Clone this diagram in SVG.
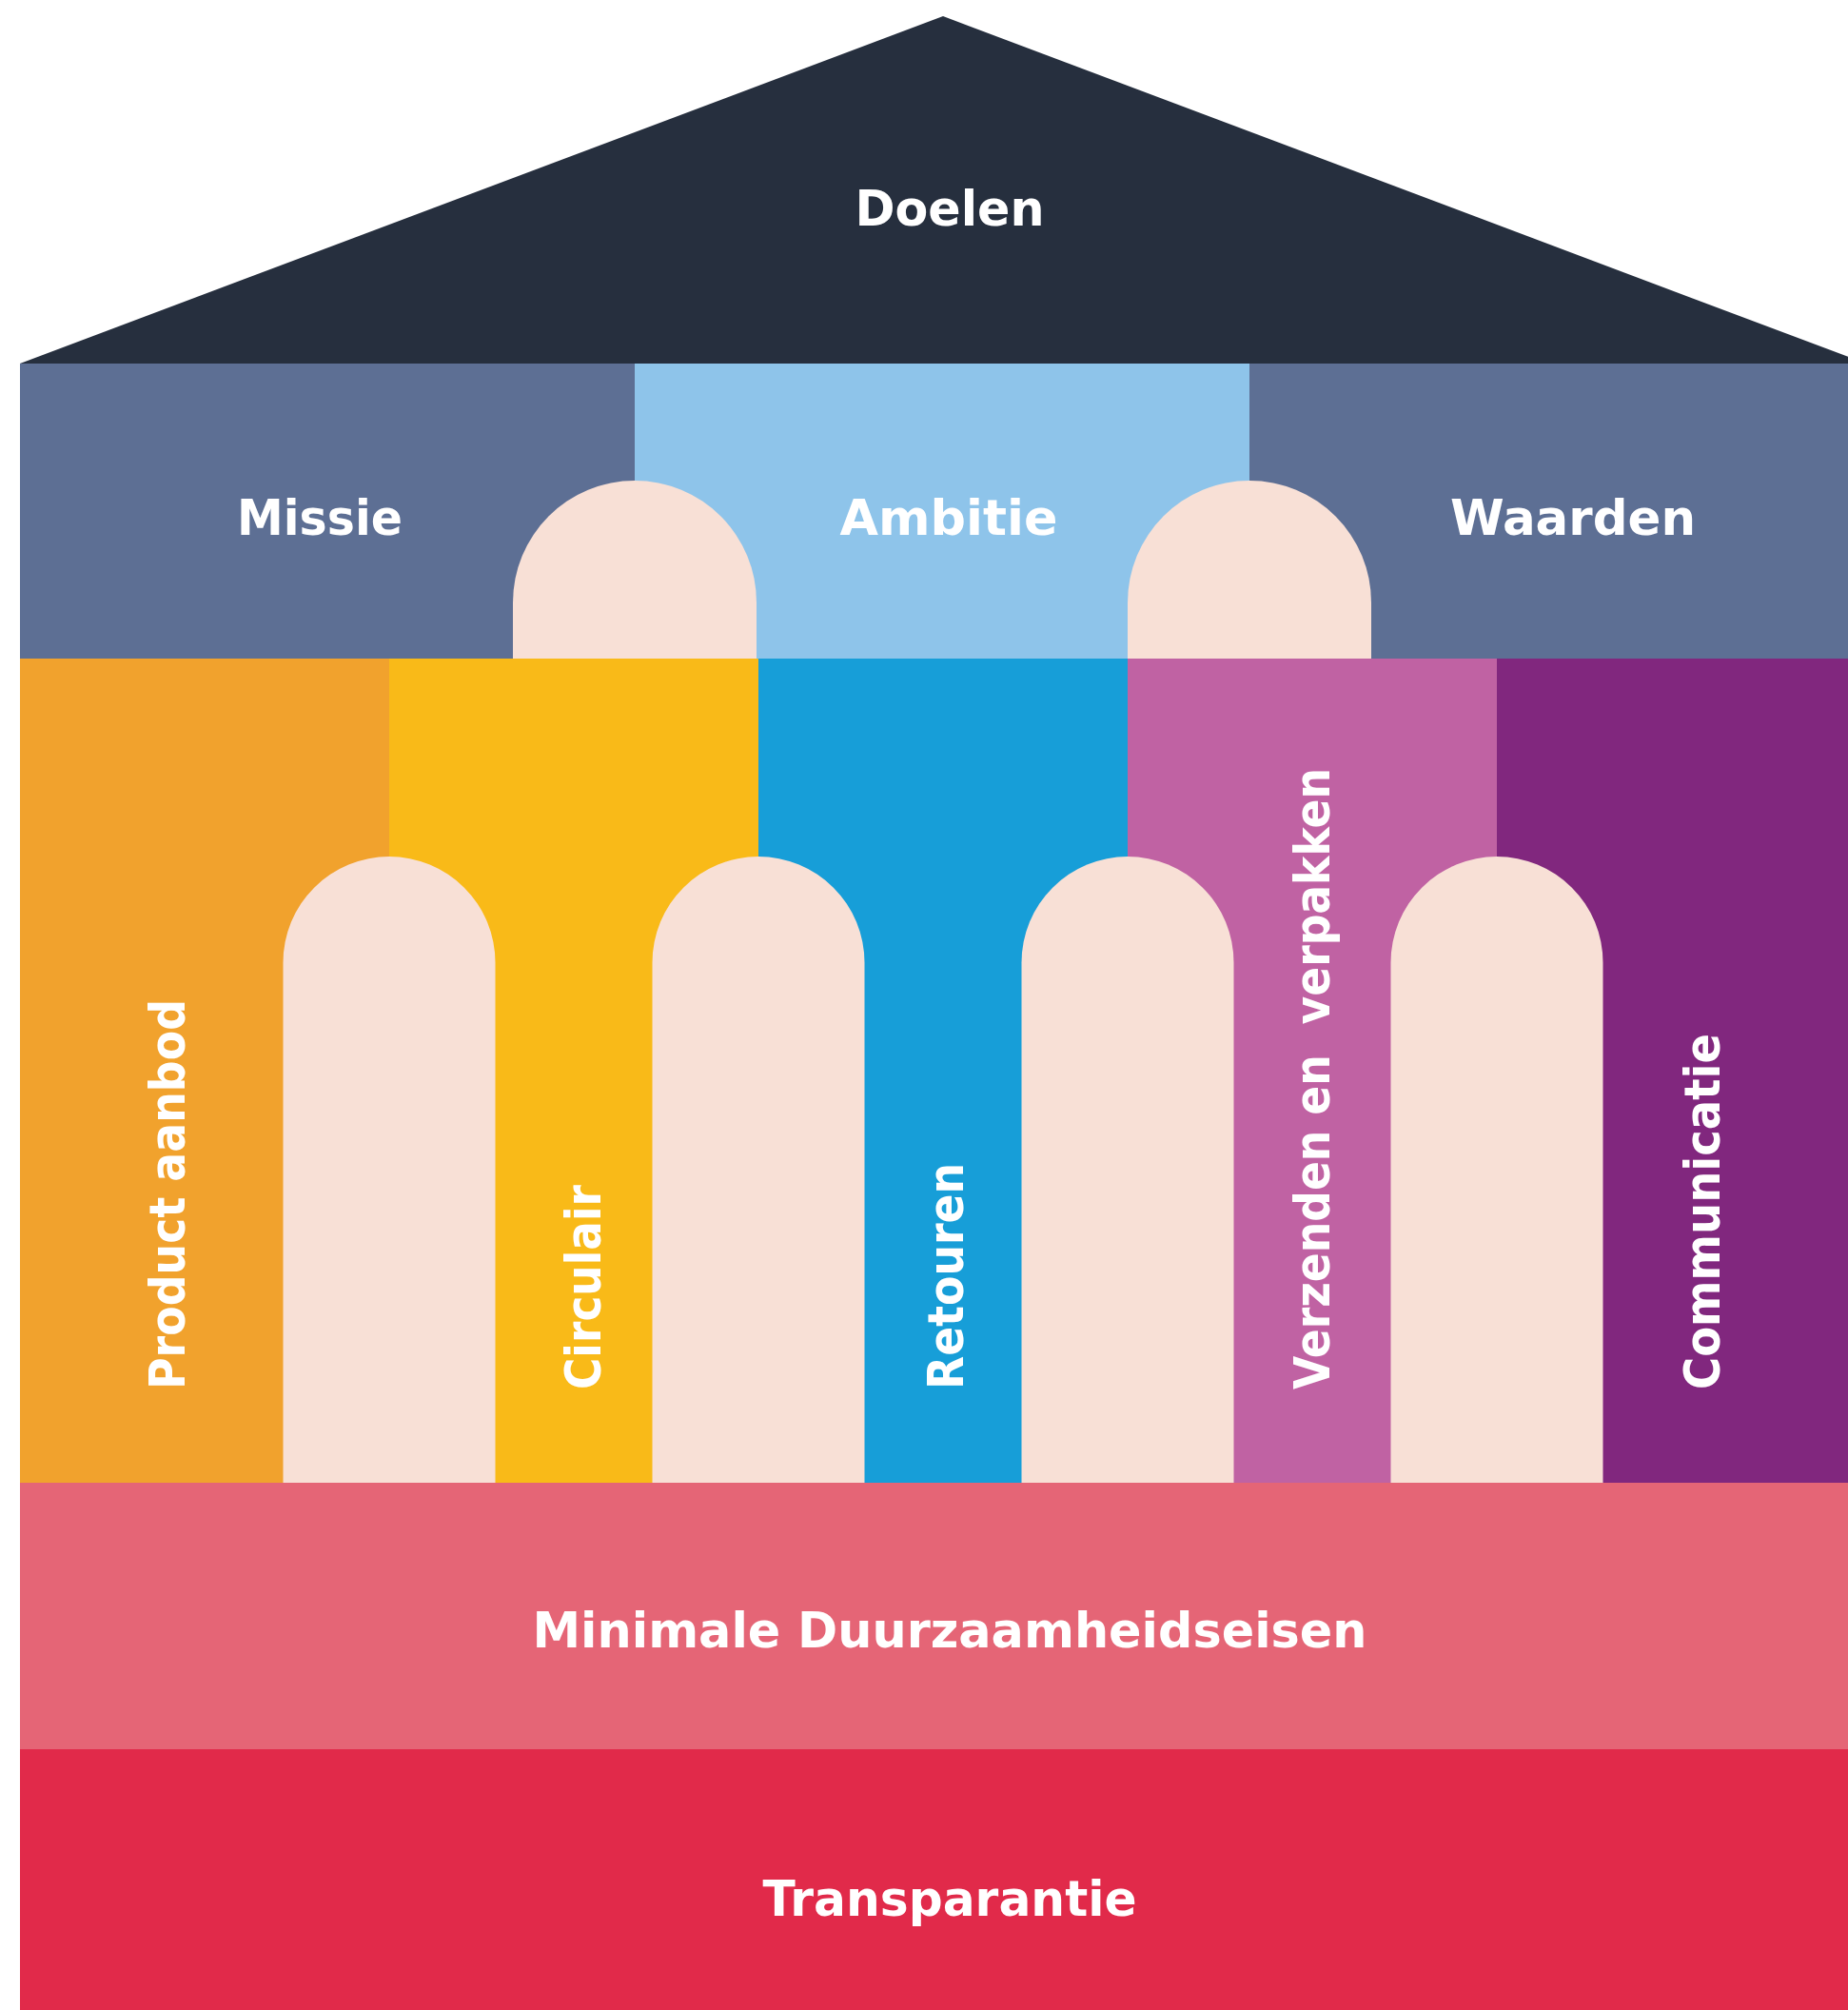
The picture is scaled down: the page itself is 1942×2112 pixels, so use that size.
<svg xmlns="http://www.w3.org/2000/svg" width="1942" height="2112" viewBox="0 0 1942 2112">
<style>
.lbl{font-family:"DejaVu Sans","Liberation Sans",sans-serif;font-weight:bold;font-size:52px;fill:#FFFFFF}
.arch{fill:#F8E0D6}
</style>
<rect x="0" y="0" width="1942" height="2112" fill="#FFFFFF"/>
<g id="roof">
<polygon points="21,382 991,17 1961,382" fill="#262F3E"/>
<text class="lbl" x="998" y="237" text-anchor="middle" textLength="199" lengthAdjust="spacingAndGlyphs">Doelen</text>
</g>
<g id="missie">
<rect x="21" y="382" width="647" height="311" fill="#5D6F94"/>
<text class="lbl" x="336" y="562" text-anchor="middle" textLength="174" lengthAdjust="spacingAndGlyphs">Missie</text>
</g>
<g id="ambitie">
<rect x="667" y="382" width="647" height="311" fill="#8EC4EA"/>
<text class="lbl" x="997" y="562" text-anchor="middle" textLength="229" lengthAdjust="spacingAndGlyphs">Ambitie</text>
</g>
<g id="waarden">
<rect x="1313" y="382" width="648" height="311" fill="#5D6F94"/>
<text class="lbl" x="1653" y="562" text-anchor="middle" textLength="258" lengthAdjust="spacingAndGlyphs">Waarden</text>
</g>
<g id="top-arches">
<path class="arch" d="M539,693 V633 A128,128 0 0 1 795,633 V693 Z"/>
<path class="arch" d="M1185,693 V633 A128,128 0 0 1 1441,633 V693 Z"/>
</g>
<g id="product-aanbod">
<rect x="21" y="692" width="389" height="867" fill="#F1A22D"/>
<text class="lbl" transform="translate(194,1460) rotate(-90)" textLength="410" lengthAdjust="spacingAndGlyphs">Product aanbod</text>
</g>
<g id="circulair">
<rect x="409" y="692" width="389" height="867" fill="#F9BA18"/>
<text class="lbl" transform="translate(631,1460) rotate(-90)" textLength="215" lengthAdjust="spacingAndGlyphs">Circulair</text>
</g>
<g id="retouren">
<rect x="797" y="692" width="389" height="867" fill="#179ED8"/>
<text class="lbl" transform="translate(1012,1460) rotate(-90)" textLength="238" lengthAdjust="spacingAndGlyphs">Retouren</text>
</g>
<g id="verzenden-en-verpakken">
<rect x="1185" y="692" width="389" height="867" fill="#C062A3"/>
<text class="lbl" transform="translate(1397,1460) rotate(-90)" textLength="653" lengthAdjust="spacingAndGlyphs" xml:space="preserve">Verzenden en  verpakken</text>
</g>
<g id="communicatie">
<rect x="1573" y="692" width="388" height="867" fill="#81277E"/>
<text class="lbl" transform="translate(1807,1460) rotate(-90)" textLength="374" lengthAdjust="spacingAndGlyphs">Communicatie</text>
</g>
<g id="pillar-arches">
<path class="arch" d="M297.5,1558 V1011.5 A111.5,111.5 0 0 1 520.5,1011.5 V1558 Z"/>
<path class="arch" d="M685.5,1558 V1011.5 A111.5,111.5 0 0 1 908.5,1011.5 V1558 Z"/>
<path class="arch" d="M1073.5,1558 V1011.5 A111.5,111.5 0 0 1 1296.5,1011.5 V1558 Z"/>
<path class="arch" d="M1461.5,1558 V1011.5 A111.5,111.5 0 0 1 1684.5,1011.5 V1558 Z"/>
</g>
<g id="minimale-duurzaamheidseisen">
<rect x="21" y="1558" width="1940" height="281" fill="#E56576"/>
<text class="lbl" x="998" y="1731" text-anchor="middle" textLength="877" lengthAdjust="spacingAndGlyphs">Minimale Duurzaamheidseisen</text>
</g>
<g id="transparantie">
<rect x="21" y="1838" width="1940" height="274" fill="#E12A4A"/>
<text class="lbl" x="998" y="2013" text-anchor="middle" textLength="393" lengthAdjust="spacingAndGlyphs">Transparantie</text>
</g>
<g id="connectors"/>
</svg>
